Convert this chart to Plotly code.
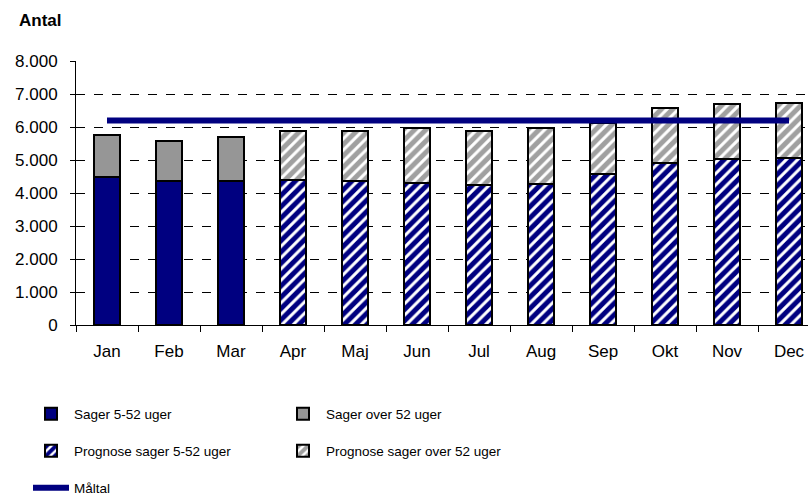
import plotly.graph_objects as go

months = ["Jan", "Feb", "Mar", "Apr", "Maj", "Jun", "Jul", "Aug", "Sep", "Okt", "Nov", "Dec"]
sager_5_52 = [4500, 4350, 4350, None, None, None, None, None, None, None, None, None]
sager_over_52 = [1260, 1230, 1350, None, None, None, None, None, None, None, None, None]
prognose_5_52 = [None, None, None, 4380, 4350, 4310, 4250, 4280, 4580, 4910, 5020, 5070]
prognose_over_52 = [None, None, None, 1490, 1530, 1670, 1630, 1700, 1540, 1670, 1680, 1660]
maaltal = [6200, 6200, 6200, 6200, 6200, 6200, 6200, 6200, 6200, 6200, 6200, 6200]
ytick_vals = [0, 1000, 2000, 3000, 4000, 5000, 6000, 7000, 8000]
ytick_text = ["0", "1.000", "2.000", "3.000", "4.000", "5.000", "6.000", "7.000", "8.000"]

NAVY = "#000080"
GRAY = "#969696"
FONT = "Liberation Sans, Arial, sans-serif"

fig = go.Figure()
outline = dict(color="black", width=2)
fig.add_trace(go.Bar(x=months, y=sager_5_52, name="Sager 5-52 uger",
                     marker=dict(color=NAVY, line=outline), width=0.42, legend="legend"))
fig.add_trace(go.Bar(x=months, y=sager_over_52, name="Sager over 52 uger",
                     marker=dict(color=GRAY, line=outline), width=0.42, legend="legend"))
fig.add_trace(go.Bar(x=months, y=prognose_5_52, name="Prognose sager 5-52 uger",
                     marker=dict(color="white", line=outline,
                                 pattern=dict(shape="/", fgcolor=NAVY, bgcolor="white",
                                              fgopacity=1, size=8, solidity=0.62)),
                     width=0.42, legend="legend2"))
fig.add_trace(go.Bar(x=months, y=prognose_over_52, name="Prognose sager over 52 uger",
                     marker=dict(color="white", line=outline,
                                 pattern=dict(shape="/", fgcolor="#a0a0a0", bgcolor="white",
                                              fgopacity=1, size=8, solidity=0.62)),
                     width=0.42, legend="legend2"))
fig.add_trace(go.Scatter(x=months, y=maaltal, name="Måltal", mode="lines",
                         line=dict(color=NAVY, width=6), legend="legend3"))

W, H = 808, 498
L, T, B = 76, 61, 498 - 325


def ycont(px):
    return 1 - px / H


def xcont(px):
    return px / W


leg_common = dict(orientation="h", xanchor="left", yanchor="middle",
                  xref="container", yref="container",
                  font=dict(family=FONT, size=13.5, color="black"),
                  entrywidth=201, entrywidthmode="pixels", itemwidth=36,
                  bgcolor="rgba(0,0,0,0)", traceorder="normal")

fig.update_layout(
    width=W, height=H,
    margin=dict(l=L, r=0, t=T, b=B, autoexpand=False),
    barmode="stack",
    plot_bgcolor="white", paper_bgcolor="white",
    font=dict(family=FONT, size=17, color="black"),
    legend=dict(x=xcont(28), y=ycont(414), **leg_common),
    legend2=dict(x=xcont(28), y=ycont(451), **leg_common),
    legend3=dict(x=xcont(28), y=ycont(488), **leg_common),
    annotations=[dict(text="<b>Antal</b>", xref="paper", yref="paper",
                      x=(17 - L) / (W - L), xanchor="left",
                      y=(H - B - 20) / (H - T - B), yanchor="middle", showarrow=False,
                      font=dict(family=FONT, size=17, color="black"))],
    xaxis=dict(range=[-0.5, -0.5 + (W - L) / 62.0], showline=True, linecolor="black",
               linewidth=1, ticks="outside", ticklen=6, tickcolor="black",
               tickson="boundaries", showgrid=False, ticklabelstandoff=11,
               tickfont=dict(family=FONT, size=17, color="black")),
    yaxis=dict(range=[0, 8000], tickvals=ytick_vals, ticktext=ytick_text,
               showline=True, linecolor="black", linewidth=1, ticks="outside",
               ticklen=5, tickcolor="black", showgrid=True, gridcolor="black",
               gridwidth=1, griddash="dash", zeroline=False, ticklabelstandoff=9,
               tickfont=dict(family=FONT, size=17, color="black")),
)

fig.write_html("out.html", config={"displayModeBar": False},
               post_script="document.body.style.margin='0';")
